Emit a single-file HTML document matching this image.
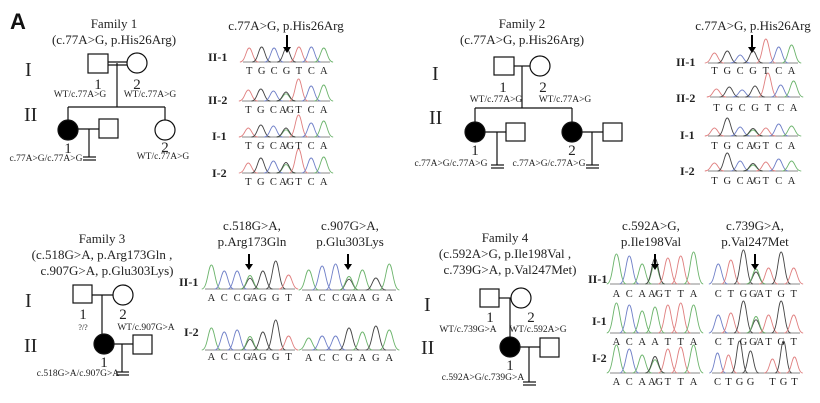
<!DOCTYPE html>
<html><head><meta charset="utf-8"><style>
html,body{margin:0;padding:0;background:#fff}
svg{display:block}
text{font-family:"Liberation Serif",serif;fill:#222}
.t{font-size:13px}
.s{font-size:9.5px}
.n{font-size:15px}
.g{font-size:20px}
.l{font-size:12px;font-weight:bold}
</style></head><body>
<svg id="S" width="820" height="403" viewBox="0 0 820 403" xmlns="http://www.w3.org/2000/svg">
<g stroke="#111" stroke-width="1.2" fill="none">
<rect x="88" y="54" width="20" height="19" fill="#fff"/>
<circle cx="137" cy="63" r="10" fill="#fff"/>
<line x1="108" y1="62" x2="127" y2="62"/><line x1="108" y1="65" x2="127" y2="65"/>
<line x1="117" y1="63" x2="117" y2="107"/>
<line x1="68" y1="107" x2="165" y2="107"/>
<line x1="68" y1="107" x2="68" y2="120"/><line x1="165" y1="107" x2="165" y2="120"/>
<circle cx="68" cy="130" r="10" fill="#000"/>
<rect x="99" y="119" width="19" height="19" fill="#fff"/>
<line x1="78" y1="129" x2="99" y2="129"/>
<line x1="89" y1="129" x2="89" y2="157"/>
<line x1="83" y1="157" x2="96" y2="157"/><line x1="83" y1="160" x2="96" y2="160"/>
<circle cx="165" cy="130" r="10" fill="#fff"/>
<rect x="494" y="57" width="20" height="18" fill="#fff"/>
<circle cx="540" cy="66" r="10" fill="#fff"/>
<line x1="514" y1="66" x2="530" y2="66"/>
<line x1="522" y1="66" x2="522" y2="108"/>
<line x1="475" y1="108" x2="572" y2="108"/>
<line x1="475" y1="108" x2="475" y2="122"/><line x1="572" y1="108" x2="572" y2="122"/>
<circle cx="475" cy="132" r="10" fill="#000"/>
<rect x="506" y="123" width="19" height="18" fill="#fff"/>
<line x1="485" y1="132" x2="506" y2="132"/>
<line x1="497" y1="132" x2="497" y2="165"/>
<line x1="491" y1="165" x2="504" y2="165"/><line x1="491" y1="168" x2="504" y2="168"/>
<circle cx="572" cy="132" r="10" fill="#000"/>
<rect x="603" y="123" width="19" height="18" fill="#fff"/>
<line x1="582" y1="132" x2="603" y2="132"/>
<line x1="592" y1="132" x2="592" y2="165"/>
<line x1="586" y1="165" x2="599" y2="165"/><line x1="586" y1="168" x2="599" y2="168"/>
<rect x="73" y="285" width="19" height="18" fill="#fff"/>
<circle cx="123" cy="295" r="10" fill="#fff"/>
<line x1="92" y1="295" x2="113" y2="295"/>
<line x1="102" y1="295" x2="102" y2="335"/>
<circle cx="104" cy="344" r="10" fill="#000"/>
<rect x="133" y="335" width="19" height="19" fill="#fff"/>
<line x1="114" y1="344" x2="133" y2="344"/>
<line x1="122" y1="344" x2="122" y2="372"/>
<line x1="116" y1="372" x2="129" y2="372"/><line x1="116" y1="375" x2="129" y2="375"/>
<rect x="480" y="289" width="19" height="18" fill="#fff"/>
<circle cx="521" cy="298" r="10" fill="#fff"/>
<line x1="499" y1="298" x2="511" y2="298"/>
<line x1="510" y1="298" x2="510" y2="338"/>
<circle cx="510" cy="347" r="10" fill="#000"/>
<rect x="540" y="338" width="19" height="19" fill="#fff"/>
<line x1="520" y1="347" x2="540" y2="347"/>
<line x1="529" y1="347" x2="529" y2="382"/>
<line x1="523" y1="382" x2="536" y2="382"/><line x1="523" y1="385" x2="536" y2="385"/>
</g>
<g id="chrom"></g>
<g fill="#000">
<path d="M286 35 h2 v12 h3 l-4 6 l-4 -6 h3z"/>
<path d="M751 35 h2 v12 h3 l-4 6 l-4 -6 h3z"/>
<path d="M248 254 h2 v10 h3 l-4 6 l-4 -6 h3z"/>
<path d="M347 254 h2 v10 h3 l-4 6 l-4 -6 h3z"/>
<path d="M654 254 h2 v10 h3 l-4 6 l-4 -6 h3z"/>
<path d="M754 254 h2 v10 h3 l-4 6 l-4 -6 h3z"/>
</g>
<text x="10" y="29" style="font-family:'Liberation Sans',sans-serif;font-weight:bold;font-size:22px;fill:#111">A</text>
<text class="t" x="114" y="28" text-anchor="middle">Family 1</text>
<text class="t" x="114" y="44" text-anchor="middle">(c.77A&gt;G, p.His26Arg)</text>
<text class="g" x="25" y="76">I</text><text class="g" x="24" y="121">II</text>
<text class="n" x="98" y="89" text-anchor="middle">1</text><text class="n" x="137" y="89" text-anchor="middle">2</text>
<text class="s" x="80" y="97" text-anchor="middle">WT/c.77A&gt;G</text><text class="s" x="150" y="97" text-anchor="middle">WT/c.77A&gt;G</text>
<text class="n" x="68" y="153" text-anchor="middle">1</text><text class="n" x="165" y="152" text-anchor="middle">2</text>
<text class="s" x="46" y="161" text-anchor="middle">c.77A&gt;G/c.77A&gt;G</text><text class="s" x="163" y="159" text-anchor="middle">WT/c.77A&gt;G</text>
<text class="t" x="286" y="30" text-anchor="middle">c.77A&gt;G, p.His26Arg</text>
<text class="l" x="208" y="61">II-1</text><text class="l" x="208" y="104">II-2</text>
<text class="l" x="212" y="140">I-1</text><text class="l" x="212" y="177">I-2</text>
<text class="t" x="522" y="28" text-anchor="middle">Family 2</text>
<text class="t" x="522" y="44" text-anchor="middle">(c.77A&gt;G, p.His26Arg)</text>
<text class="g" x="432" y="80">I</text><text class="g" x="429" y="124">II</text>
<text class="n" x="503" y="92" text-anchor="middle">1</text><text class="n" x="543" y="92" text-anchor="middle">2</text>
<text class="s" x="496" y="102" text-anchor="middle">WT/c.77A&gt;G</text><text class="s" x="565" y="102" text-anchor="middle">WT/c.77A&gt;G</text>
<text class="n" x="475" y="155" text-anchor="middle">1</text><text class="n" x="572" y="155" text-anchor="middle">2</text>
<text class="s" x="451" y="166" text-anchor="middle">c.77A&gt;G/c.77A&gt;G</text><text class="s" x="549" y="166" text-anchor="middle">c.77A&gt;G/c.77A&gt;G</text>
<text class="t" x="753" y="30" text-anchor="middle">c.77A&gt;G, p.His26Arg</text>
<text class="l" x="676" y="66">II-1</text><text class="l" x="676" y="102">II-2</text>
<text class="l" x="680" y="139">I-1</text><text class="l" x="680" y="175">I-2</text>
<text class="t" x="102" y="243" text-anchor="middle">Family 3</text>
<text class="t" x="102" y="259" text-anchor="middle">(c.518G&gt;A, p.Arg173Gln ,</text>
<text class="t" x="107" y="275" text-anchor="middle">c.907G&gt;A, p.Glu303Lys)</text>
<text class="g" x="25" y="307">I</text><text class="g" x="24" y="352">II</text>
<text class="n" x="83" y="319" text-anchor="middle">1</text><text class="n" x="123" y="319" text-anchor="middle">2</text>
<text x="83" y="330" text-anchor="middle" style="font-size:8px">?/?</text>
<text class="s" x="146" y="330" text-anchor="middle">WT/c.907G&gt;A</text>
<text class="n" x="104" y="367" text-anchor="middle">1</text>
<text class="s" x="78" y="376" text-anchor="middle">c.518G&gt;A/c.907G&gt;A</text>
<text class="t" x="252" y="230" text-anchor="middle">c.518G&gt;A,</text><text class="t" x="252" y="246" text-anchor="middle">p.Arg173Gln</text>
<text class="t" x="350" y="230" text-anchor="middle">c.907G&gt;A,</text><text class="t" x="350" y="246" text-anchor="middle">p.Glu303Lys</text>
<text class="l" x="179" y="286">II-1</text><text class="l" x="184" y="336">I-2</text>
<text class="t" x="505" y="242" text-anchor="middle">Family 4</text>
<text class="t" x="505" y="258" text-anchor="middle">(c.592A&gt;G, p.Ile198Val ,</text>
<text class="t" x="510" y="274" text-anchor="middle">c.739G&gt;A, p.Val247Met)</text>
<text class="g" x="424" y="311">I</text><text class="g" x="421" y="354">II</text>
<text class="n" x="490" y="322" text-anchor="middle">1</text><text class="n" x="531" y="322" text-anchor="middle">2</text>
<text class="s" x="468" y="332" text-anchor="middle">WT/c.739G&gt;A</text><text class="s" x="538" y="332" text-anchor="middle">WT/c.592A&gt;G</text>
<text class="n" x="510" y="370" text-anchor="middle">1</text>
<text class="s" x="483" y="380" text-anchor="middle">c.592A&gt;G/c.739G&gt;A</text>
<text class="t" x="651" y="230" text-anchor="middle">c.592A&gt;G,</text><text class="t" x="651" y="246" text-anchor="middle">p.Ile198Val</text>
<text class="t" x="755" y="230" text-anchor="middle">c.739G&gt;A,</text><text class="t" x="755" y="246" text-anchor="middle">p.Val247Met</text>
<text class="l" x="588" y="283">II-1</text><text class="l" x="592" y="325">I-1</text><text class="l" x="592" y="362">I-2</text>
<g id="letters"></g>
</svg>
<script>
var C={A:"#6cb46c",C:"#7080c8",G:"#444",T:"#e08080"};
var ch=document.getElementById("chrom"),lt=document.getElementById("letters");
function tr(x0,x1,by,ly,seq,h){
  var n=seq.length,w=(x1-x0)/n,s="",L="";
  s+='<line x1="'+x0+'" y1="'+by+'" x2="'+x1+'" y2="'+by+'" stroke="#888" stroke-width="1"/>';
  for(var i=0;i<n;i++){
    var cx=x0+w*(i+0.5),b=seq[i],hh=h[i];
    if(b){
    var bases=b.split("/");
    for(var j=0;j<bases.length;j++){
      var hg=bases.length>1?hh*(j?0.75:0.6):hh, c=C[bases[j]];
      s+='<path d="M'+(cx-w*0.75)+' '+by+' C'+(cx-w*0.3)+' '+by+' '+(cx-w*0.25)+' '+(by-hg)+' '+cx+' '+(by-hg)+' S'+(cx+w*0.3)+' '+by+' '+(cx+w*0.75)+' '+by+'" fill="none" stroke="'+c+'" stroke-width="0.9"/>';
    }}
    var st=b.indexOf("/")>=0?'font-size:10px;letter-spacing:-1.2px':'font-size:10.5px';
    L+='<text x="'+cx+'" y="'+ly+'" text-anchor="middle" style="'+st+'">'+b+'</text>';
  }
  ch.innerHTML+=s; lt.innerHTML+=L;
}
tr(243,330,62,74,["T","G","C","G","T","C","A"],[14,15,14,14,15,15,14]);
tr(242,330,101,113,["T","G","C","A/G","T","C","A"],[11,12,10,12,22,15,16]);
tr(242,330,137,149,["T","G","C","A/G","T","C","A"],[9,12,11,12,22,14,16]);
tr(242,330,173,185,["T","G","C","A/G","T","C","A"],[10,15,12,14,24,15,16]);
tr(708,798,63,74,["T","G","C","G","T","C","A"],[10,12,8,12,24,16,18]);
tr(710,800,97,111,["T","G","C","G","T","C","A"],[8,10,7,11,24,12,16]);
tr(708,798,136,149,["T","G","C","A/G","T","C","A"],[8,18,9,10,8,12,10]);
tr(708,798,171,184,["T","G","C","A/G","T","C","A"],[8,18,10,10,9,12,10]);
tr(205,295,289,301,["A","C","C","G/A","G","G","T"],[24,18,18,18,18,28,14]);
tr(302,396,290,301,["A","C","C","G/A","A","G","A"],[20,24,26,18,20,12,26]);
tr(205,295,350,360,["A","C","C","G/A","G","G","T"],[22,18,20,18,18,30,14]);
tr(302,396,350,361,["A","C","C","G","A","G","A"],[12,14,14,22,18,24,20]);
tr(610,700,284,297,["A","C","A","A/G","T","T","A"],[30,28,20,34,26,28,32]);
tr(712,800,284,297,["C","T","G","G/A","T","G","T"],[20,24,34,20,16,32,16]);
tr(610,700,333,345,["A","C","A","A","T","T","A"],[30,28,22,26,28,30,28]);
tr(712,800,333,345,["C","T","G","G/A","T","G","T"],[18,20,32,22,18,32,18]);
tr(610,700,373,385,["A","C","A","A/G","T","T","A"],[28,24,18,22,24,26,28]);
tr(712,800,373,385,["C","T","G","G","","T","G","T"],[20,18,32,22,0,14,32,16]);
</script>
</body></html>
